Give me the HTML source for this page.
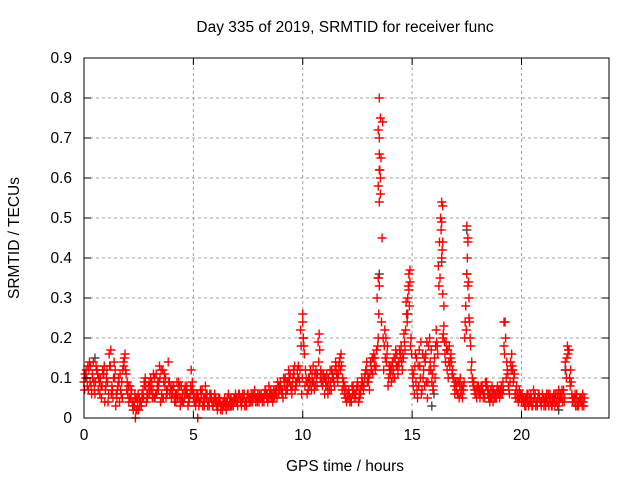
<!DOCTYPE html>
<html><head><meta charset="utf-8"><style>
body{margin:0;background:#fff}
svg text{font-family:"Liberation Sans",sans-serif;font-size:15.5px;fill:#000}
</style></head><body>
<svg id="chart" width="640" height="480" viewBox="0 0 640 480" xmlns="http://www.w3.org/2000/svg">
<rect width="640" height="480" fill="#fff"/>
<g id="grid"></g>
<g id="marks"></g>
<g id="axes"></g>
<text x="345" y="32" text-anchor="middle">Day 335 of 2019, SRMTID for receiver func</text>
<text x="345" y="471" text-anchor="middle">GPS time / hours</text>
<text transform="translate(19,238) rotate(-90)" text-anchor="middle">SRMTID / TECUs</text>
</svg>
<script>
const xTicks=[0,5,10,15,20];
const yTicks=[0,0.1,0.2,0.3,0.4,0.5,0.6,0.7,0.8,0.9];
const yTickLabels=["0","0.1","0.2","0.3","0.4","0.5","0.6","0.7","0.8","0.9"];
const dt=0.1;
const seriesA=[.09,.12,.07,.13,.10,.06,.12,.09,.05,.11,
.08,.04,.13,.07,.10,.05,.09,.06,.14,.12,
.06,.08,.04,.03,.05,.02,.04,.07,.10,.05,
.06,.09,.05,.11,.07,.04,.12,.08,.06,.09,
.05,.08,.04,.07,.03,.06,.05,.08,.04,.12,
.05,.03,.06,.04,.07,.03,.05,.04,.06,.03,
.04,.02,.05,.03,.04,.02,.06,.03,.04,.05,
.04,.06,.03,.05,.04,.06,.05,.04,.07,.05,
.04,.06,.05,.07,.04,.05,.06,.05,.07,.06,
.08,.05,.10,.07,.09,.06,.11,.08,.13,.22,
.24,.08,.06,.10,.07,.09,.12,.19,.10,.08,
.06,.11,.08,.07,.10,.14,.09,.15,.07,.06,
.04,.07,.05,.08,.06,.09,.05,.10,.08,.12,
.09,.14,.11,.15,.30,.66,.24,.12,.20,.08,
.11,.14,.10,.16,.13,.18,.15,.22,.30,.34,
.12,.06,.15,.08,.19,.10,.14,.05,.20,.09,
.13,.22,.38,.50,.20,.16,.12,.18,.14,.10,
.08,.06,.10,.05,.20,.36,.30,.12,.08,.06,
.07,.05,.08,.06,.09,.05,.07,.04,.06,.08,
.05,.07,.18,.10,.08,.14,.12,.06,.05,.07,
.04,.05,.03,.06,.04,.03,.05,.04,.06,.03,
.05,.03,.04,.06,.03,.05,.04,.07,.05,.06,
.14,.18,.10,.06,.04,.05,.03,.04,.06];
const seriesB=[.11,.08,.14,.06,.09,.13,.07,.10,.12,.04,
.12,.16,.06,.10,.03,.08,.11,.05,.15,.07,
.04,.06,.02,.05,.04,.03,.06,.09,.04,.08,
.10,.07,.05,.08,.13,.06,.09,.05,.14,.07,
.06,.04,.09,.05,.08,.04,.07,.03,.06,.09,
.04,.06,.03,.05,.04,.08,.03,.06,.04,.05,
.03,.05,.02,.04,.03,.05,.04,.03,.05,.04,
.05,.04,.06,.03,.05,.04,.06,.05,.04,.06,
.05,.04,.06,.05,.08,.06,.05,.07,.09,.07,
.06,.09,.07,.12,.08,.10,.07,.12,.09,.06,
.18,.10,.07,.12,.09,.11,.08,.21,.09,.11,
.08,.06,.12,.10,.08,.11,.13,.16,.08,.05,
.06,.04,.08,.05,.07,.04,.06,.08,.11,.09,
.07,.12,.16,.13,.20,.56,.74,.22,.16,.13,
.09,.12,.17,.11,.15,.12,.19,.26,.36,.20,
.08,.16,.05,.13,.07,.15,.09,.18,.12,.07,
.10,.18,.44,.54,.23,.19,.10,.15,.12,.06,
.09,.05,.08,.07,.28,.44,.20,.10,.07,.05,
.06,.08,.05,.09,.06,.04,.08,.06,.05,.07,
.06,.09,.24,.12,.06,.16,.10,.07,.04,.06,
.05,.03,.06,.04,.05,.07,.03,.05,.04,.06,
.04,.06,.03,.05,.04,.06,.03,.05,.07,.04,
.10,.17,.12,.05,.06,.03,.05,.04,.03];
const seriesC=[.07,.10,.12,.08,.14,.09,.11,.06,.08,.13,
.10,.06,.17,.05,.12,.07,.04,.09,.13,.11,
.08,.05,.03,.06,.02,.05,.03,.05,.08,.06,
.08,.05,.10,.06,.09,.12,.05,.10,.07,.06,
.07,.05,.06,.09,.05,.04,.08,.06,.05,.07,
.06,.04,.05,.07,.03,.05,.06,.03,.05,.04,
.05,.03,.04,.02,.05,.04,.03,.05,.03,.06,
.03,.05,.04,.06,.03,.05,.04,.06,.05,.04,
.06,.05,.04,.06,.05,.07,.04,.06,.05,.08,
.07,.10,.06,.09,.11,.08,.13,.09,.10,.18,
.20,.12,.09,.08,.11,.07,.10,.14,.12,.09,
.10,.08,.07,.12,.09,.13,.11,.12,.10,.08,
.05,.06,.04,.07,.05,.08,.07,.09,.10,.14,
.10,.13,.15,.12,.18,.62,.45,.18,.14,.10,
.13,.10,.15,.13,.17,.14,.21,.29,.33,.18,
.10,.13,.07,.17,.06,.12,.16,.09,.14,.11,
.15,.19,.33,.47,.21,.14,.17,.13,.11,.08,
.07,.09,.06,.08,.24,.40,.24,.14,.09,.07,
.08,.06,.07,.05,.08,.06,.05,.07,.05,.06,
.07,.06,.16,.14,.07,.12,.09,.05,.06,.05,
.06,.04,.05,.03,.06,.04,.06,.03,.05,.04,
.03,.05,.06,.04,.05,.03,.06,.04,.05,.07,
.12,.16,.08,.04,.05,.06,.04,.05,.04];
const seriesD=[.10,.13,.09,.11,.07,.12,.10,.08,.11,.07,
.09,.13,.08,.14,.06,.10,.07,.12,.16,.09,
.05,.07,.04,.02,.06,.04,.05,.08,.06,.09,
.07,.11,.06,.09,.10,.05,.11,.07,.09,.08,
.08,.06,.05,.08,.04,.07,.06,.05,.08,.07,
.05,.05,.04,.06,.05,.06,.04,.05,.03,.06,
.04,.04,.03,.03,.04,.03,.05,.04,.04,.05,
.06,.05,.05,.04,.06,.05,.05,.06,.05,.05,
.05,.05,.07,.06,.06,.05,.07,.06,.08,.09,
.07,.08,.09,.10,.07,.12,.09,.10,.12,.10,
.16,.09,.10,.09,.13,.08,.11,.17,.11,.10,
.09,.10,.09,.11,.12,.10,.14,.13,.09,.07,
.05,.05,.06,.06,.08,.06,.08,.07,.12,.11,
.11,.15,.13,.17,.26,.65,.20,.15,.18,.12,
.12,.15,.13,.14,.16,.16,.17,.24,.28,.16,
.11,.09,.13,.10,.16,.08,.19,.12,.17,.08,
.18,.16,.35,.42,.19,.17,.14,.16,.10,.09,
.06,.08,.07,.09,.22,.34,.18,.09,.06,.08,
.07,.07,.06,.08,.07,.05,.06,.05,.07,.06,
.08,.07,.20,.11,.09,.13,.11,.08,.05,.06,
.04,.05,.04,.05,.03,.05,.04,.06,.04,.05,
.05,.04,.05,.03,.06,.04,.05,.06,.04,.05,
.15,.17,.09,.05,.03,.04,.05,.03,.05];
const extraHours=[13.5,13.55,13.45,13.5,13.5,13.45,13.5,13.55,13.45,13.5,16.4,16.35,16.4,16.35,16.45,17.5,17.55,17.5,17.55,17.6,14.85,14.9,2.35,5.2,10.0,10.02,16.4,19.2];
const extraValues=[.80,.75,.72,.70,.62,.58,.54,.60,.35,.33,.53,.49,.44,.40,.28,.48,.45,.36,.33,.25,.32,.37,0.0,0.0,.26,.20,.31,.24];
const blackHours=[0.5,13.5,13.45,14.8,15.9,16.0,16.35,17.5,22.0,21.7,18.6];
const blackValues=[.15,.36,.35,.26,.03,.06,.39,.47,.12,.02,.05];

const NS="http://www.w3.org/2000/svg";
const X0=84,X1=609,Y0=418,Y1=58,XMAX=24,YMAX=0.9;
const sx=h=>X0+h/XMAX*(X1-X0);
const sy=v=>Y0-v/YMAX*(Y0-Y1);
function mk(tag,attrs,parent){const e=document.createElementNS(NS,tag);for(const k in attrs)e.setAttribute(k,attrs[k]);parent.appendChild(e);return e;}
const grid=document.getElementById('grid'),axes=document.getElementById('axes'),marks=document.getElementById('marks');
yTicks.forEach((v,i)=>{
  const y=sy(v);
  if(i>0&&i<yTicks.length-1){const g=mk('line',{x1:X0,x2:X1,y1:y,y2:y,stroke:'#a0a0a0','stroke-dasharray':'3,3','stroke-width':1},grid);
  
  }
  mk('line',{x1:X0,x2:X0+7,y1:y,y2:y,stroke:'#000'},axes);
  mk('line',{x1:X1,x2:X1-7,y1:y,y2:y,stroke:'#000'},axes);
  const t=mk('text',{x:X0-12,y:y+5,'text-anchor':'end'},axes);t.textContent=yTickLabels[i];
  
  
});
xTicks.forEach(h=>{
  const x=sx(h);
  if(h>0){const g=mk('line',{x1:x,x2:x,y1:Y0,y2:Y1,stroke:'#a0a0a0','stroke-dasharray':'3,3','stroke-width':1},grid);
  
  }
  mk('line',{x1:x,x2:x,y1:Y0,y2:Y0-7,stroke:'#000'},axes);
  mk('line',{x1:x,x2:x,y1:Y1,y2:Y1+7,stroke:'#000'},axes);
  const t=mk('text',{x:x,y:Y0+22,'text-anchor':'middle'},axes);t.textContent=String(h);
  
  
});
const fr=mk('rect',{x:X0,y:Y1,width:X1-X0,height:Y0-Y1,fill:'none',stroke:'#000','stroke-width':1},axes);


function cross(h,v,col){
  const x=sx(h),y=sy(v);
  const p=mk('path',{d:`M${x-4.5},${y}H${x+4.5}M${x},${y-4.5}V${y+4.5}`,stroke:col,'stroke-width':1.4,fill:'none'},marks);
  
  
}
blackHours.forEach((h,i)=>cross(h,blackValues[i],'#444'));
seriesA.forEach((v,i)=>cross(i*dt,v,'#ff0000'));
seriesC.forEach((v,i)=>cross(i*dt+dt/4,v,'#ff0000'));
seriesB.forEach((v,i)=>cross(i*dt+dt/2,v,'#ff0000'));
seriesD.forEach((v,i)=>cross(i*dt+3*dt/4,v,'#ff0000'));
extraHours.forEach((h,i)=>cross(h,extraValues[i],'#ff0000'));
</script>
</body></html>
